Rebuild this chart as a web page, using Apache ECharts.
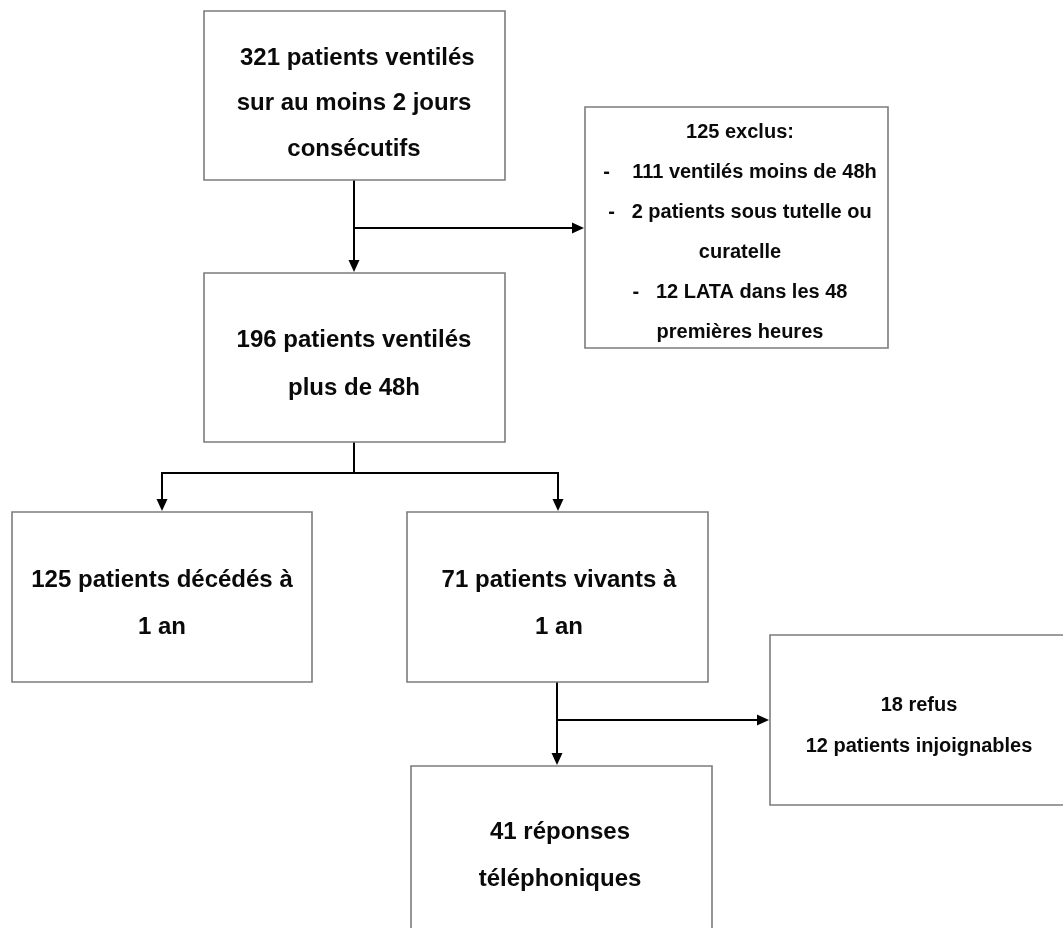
<!DOCTYPE html>
<html>
<head>
<meta charset="utf-8">
<script src="https://cdn.jsdelivr.net/npm/echarts@6/dist/echarts.min.js"></script>
<style>
html,body{margin:0;padding:0;background:#fff;}
#chart{width:1063px;height:928px;}
</style>
</head>
<body>
<div id="chart"></div>
<script>
// ---- Data: flowchart box texts ----
const boxLines = [
  [' 321 patients ventilés', 'sur au moins 2 jours', 'consécutifs'],
  ['125 exclus:', '-    111 ventilés moins de 48h', '-   2 patients sous tutelle ou', 'curatelle', '-   12 LATA dans les 48', 'premières heures'],
  ['196 patients ventilés', 'plus de 48h'],
  ['125 patients décédés à', '1 an'],
  ['71 patients vivants à', '1 an'],
  ['18 refus', '12 patients injoignables'],
  ['41 réponses', 'téléphoniques']
];
// Connections between boxes: [from, to]
const links = [[0, 2], [0, 1], [2, 3], [2, 4], [4, 6], [4, 5]];

// ---- Layout (positions / sizes / styles, kept apart from data) ----
const W = 1063, H = 928;
const boxRects = [
  [204, 11, 505, 180],
  [585, 107, 888, 348],
  [204, 273, 505, 442],
  [12, 512, 312, 682],
  [407, 512, 708, 682],
  [770, 635, 1065, 805],
  [411, 766, 712, 945]
];
const textCenterX = [354, 740, 354, 162, 559, 919, 560];
const textLinesY = [
  [58, 103.5, 149],
  [132, 172, 212, 252, 292, 332],
  [340, 388],
  [580, 627],
  [580, 627],
  [705, 746],
  [832, 879]
];
const fontSizes = [24, 20, 24, 24, 24, 20, 24];
// connector polylines (arrow at the end)
const connectorPaths = [
  [[354, 180], [354, 272]],
  [[354, 228], [584, 228]],
  [[354, 442], [354, 473], [162, 473], [162, 511]],
  [[354, 473], [558, 473], [558, 511]],
  [[557, 682], [557, 765]],
  [[557, 720], [769, 720]]
];

const boxData = boxLines.map((lines, i) => boxRects[i].concat([i]));
const linkData = links.map((l, i) => [i, l[0], l[1]]);

const chart = echarts.init(document.getElementById('chart'), null, {renderer: 'canvas'});

function renderBox(params, api) {
  const i = api.value(4);
  const p0 = api.coord([api.value(0), api.value(1)]);
  const p1 = api.coord([api.value(2), api.value(3)]);
  const children = [{
    type: 'rect',
    shape: {x: p0[0], y: p0[1], width: p1[0] - p0[0], height: p1[1] - p0[1]},
    style: {fill: '#fff', stroke: '#7c7c7c', lineWidth: 1.6}
  }];
  boxLines[i].forEach((t, j) => {
    const c = api.coord([textCenterX[i], textLinesY[i][j]]);
    children.push({
      type: 'text',
      style: {
        text: t, x: c[0], y: c[1],
        fill: '#0a0a0a',
        font: 'bold ' + fontSizes[i] + 'px "Liberation Sans", Arial, sans-serif',
        align: 'center', verticalAlign: 'middle'
      }
    });
  });
  return {type: 'group', children: children};
}

function renderLink(params, api) {
  const k = api.value(0);
  const pts = connectorPaths[k].map(p => api.coord(p));
  const a = pts[pts.length - 2], b = pts[pts.length - 1];
  const dx = b[0] - a[0], dy = b[1] - a[1];
  const len = Math.sqrt(dx * dx + dy * dy) || 1;
  const ux = dx / len, uy = dy / len;
  const hl = 12, hw = 5.5;
  const base = [b[0] - ux * hl, b[1] - uy * hl];
  const lineEnd = pts.slice(0, -1).concat([[b[0] - ux * 4, b[1] - uy * 4]]);
  return {
    type: 'group',
    children: [
      {type: 'polyline', shape: {points: lineEnd}, style: {stroke: '#000', lineWidth: 2, fill: null}},
      {type: 'polygon', shape: {points: [b, [base[0] - uy * hw, base[1] + ux * hw], [base[0] + uy * hw, base[1] - ux * hw]]},
       style: {fill: '#000', stroke: null}}
    ]
  };
}

chart.setOption({
  animation: false,
  backgroundColor: '#fff',
  grid: {left: 0, right: 0, top: 0, bottom: 0},
  xAxis: {type: 'value', min: 0, max: W, show: false},
  yAxis: {type: 'value', min: 0, max: H, inverse: true, show: false},
  series: [
    {type: 'custom', renderItem: renderLink, data: linkData, clip: false, silent: true, z: 1},
    {type: 'custom', renderItem: renderBox, data: boxData, clip: false, silent: true, z: 2}
  ]
});
</script>
</body>
</html>
